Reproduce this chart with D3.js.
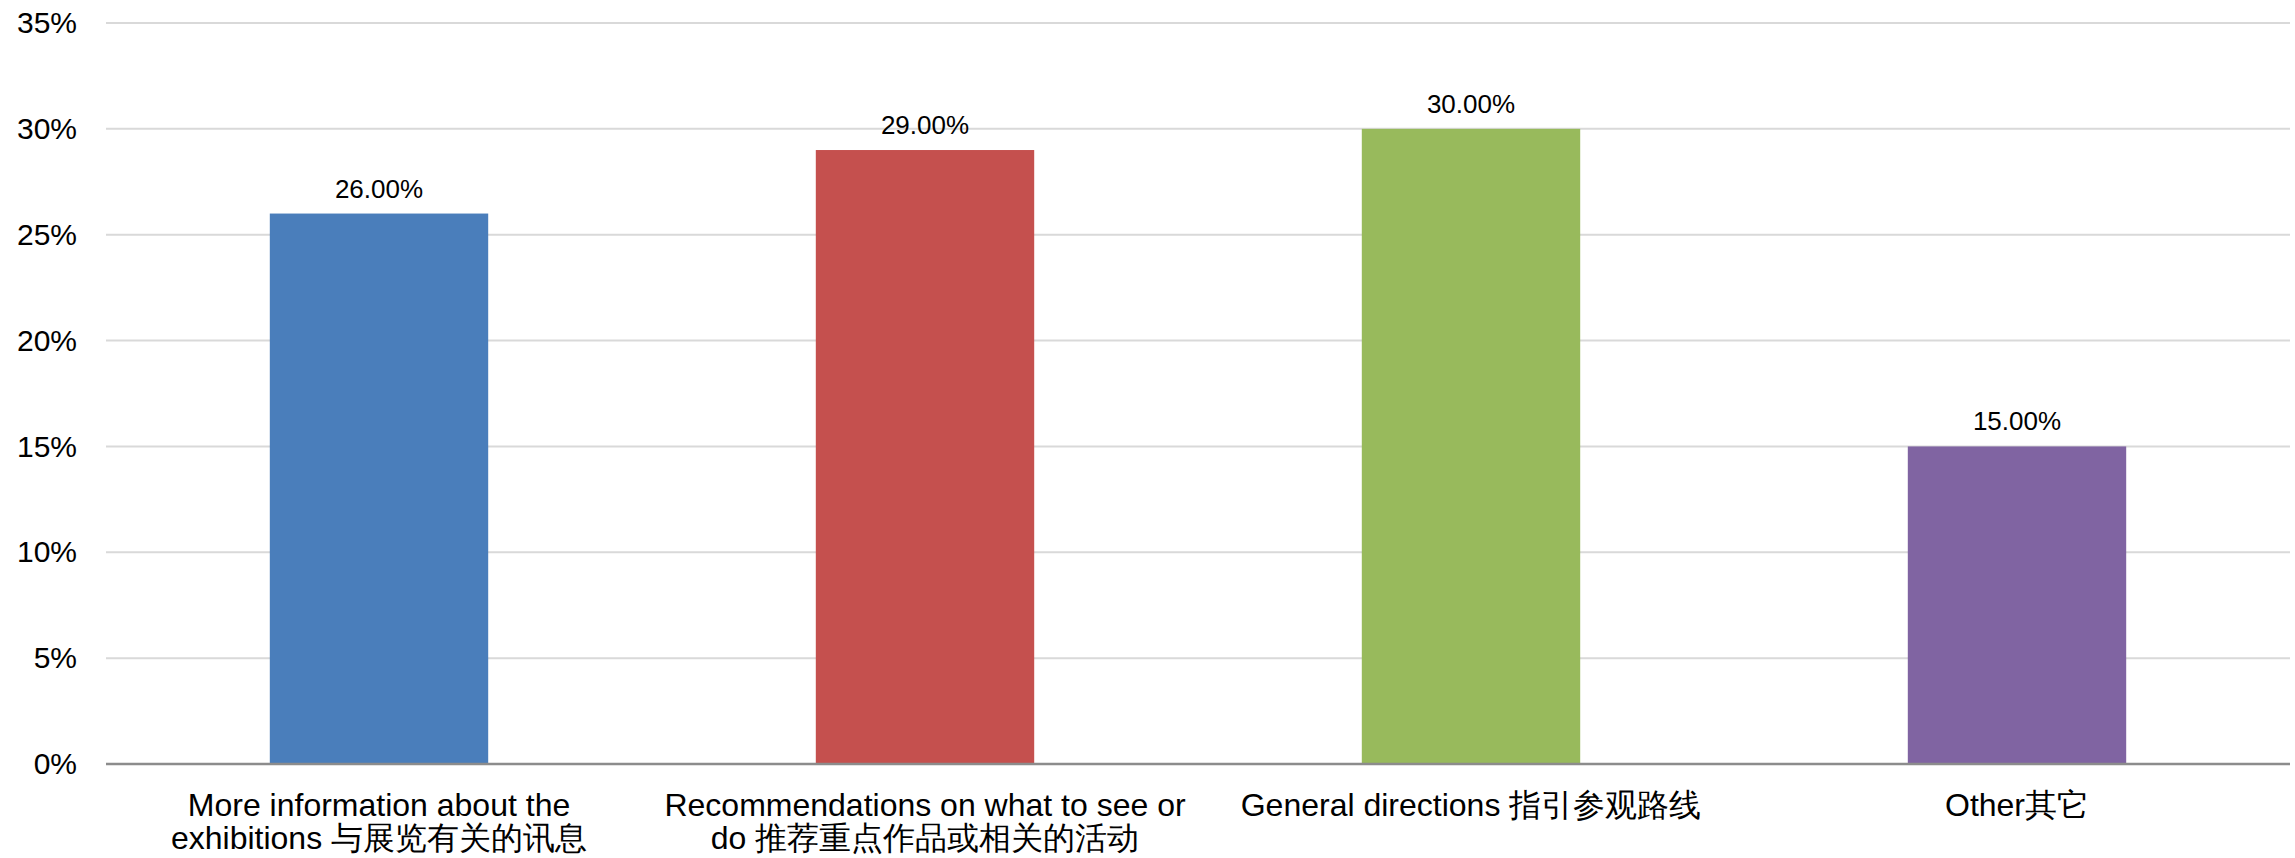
<!DOCTYPE html>
<html>
<head>
<meta charset="utf-8">
<script src="https://cdn.jsdelivr.net/npm/d3@7"></script>
<style>
  html, body { margin: 0; padding: 0; background: #ffffff; }
  svg { display: block; font-family: "Liberation Sans", Arial, "Noto Sans CJK SC", sans-serif; }
</style>
</head>
<body>
<svg id="chart" width="2295" height="858"></svg>
<script>
// ---- data ----
const categories = [
  "More information about the\nexhibitions 与展览有关的讯息",
  "Recommendations on what to see or\ndo 推荐重点作品或相关的活动",
  "General directions 指引参观路线",
  "Other其它"
];
const values = [0.26, 0.29, 0.30, 0.15];
const colors = ["#4A7EBB", "#C5504E", "#98BA5C", "#8064A2"];
const yTicks = [0, 0.05, 0.10, 0.15, 0.20, 0.25, 0.30, 0.35];

// ---- layout ----
const plotLeft = 106, plotRight = 2290, plotTop = 23, plotBottom = 764;

const svg = d3.select("#chart");

const x = d3.scaleBand()
  .domain(categories)
  .range([plotLeft, plotRight])
  .paddingInner(0.6)
  .paddingOuter(0.3);

const y = d3.scaleLinear()
  .domain([0, 0.35])
  .range([plotBottom, plotTop]);

// gridlines
svg.append("g")
  .selectAll("line")
  .data(yTicks.filter(d => d > 0))
  .join("line")
  .attr("x1", plotLeft).attr("x2", plotRight)
  .attr("y1", d => y(d)).attr("y2", d => y(d))
  .attr("stroke", "#d9d9d9")
  .attr("stroke-width", 2);

// y axis labels
const yAxis = d3.axisLeft(y)
  .tickValues(yTicks)
  .tickFormat(d3.format(".0%"))
  .tickSize(0)
  .tickPadding(29);
const gy = svg.append("g")
  .attr("transform", `translate(${plotLeft},0)`)
  .call(yAxis);
gy.select(".domain").remove();
gy.selectAll("text")
  .attr("font-size", 30)
  .attr("fill", "#000")
  .attr("font-family", "'Liberation Sans', Arial, sans-serif");

// bars
svg.append("g")
  .selectAll("rect")
  .data(values)
  .join("rect")
  .attr("x", (d, i) => x(categories[i]))
  .attr("width", x.bandwidth())
  .attr("y", d => y(d))
  .attr("height", d => y(0) - y(d))
  .attr("fill", (d, i) => colors[i]);

// data labels
svg.append("g")
  .selectAll("text")
  .data(values)
  .join("text")
  .attr("x", (d, i) => x(categories[i]) + x.bandwidth() / 2)
  .attr("y", d => y(d) - 16)
  .attr("text-anchor", "middle")
  .attr("font-size", 26)
  .attr("fill", "#000")
  .text(d => d3.format(".2%")(d));

// x axis line
svg.append("line")
  .attr("x1", plotLeft).attr("x2", plotRight)
  .attr("y1", y(0)).attr("y2", y(0))
  .attr("stroke", "#8c8c8c")
  .attr("stroke-width", 2.5);

// category labels
const gx = svg.append("g")
  .attr("transform", `translate(0,${plotBottom})`)
  .call(d3.axisBottom(x).tickSize(0).tickFormat(""));
gx.select(".domain").remove();
gx.selectAll(".tick").each(function(d) {
  const t = d3.select(this).append("text")
    .attr("text-anchor", "middle")
    .attr("font-size", 32)
    .attr("fill", "#000");
  d.split("\n").forEach((line, i) => {
    t.append("tspan")
      .attr("x", 0)
      .attr("y", 52 + i * 33)
      .text(line);
  });
});
</script>
</body>
</html>
